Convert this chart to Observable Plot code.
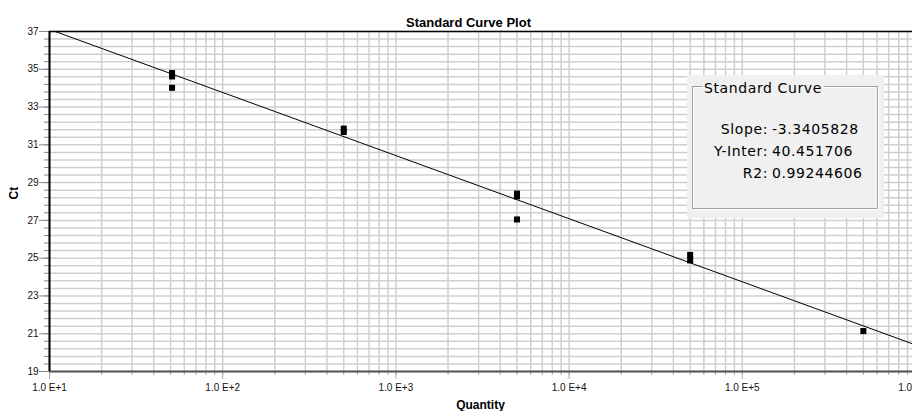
<!DOCTYPE html>
<html>
<head>
<meta charset="utf-8">
<script src="https://cdn.jsdelivr.net/npm/d3@7"></script>
<script src="https://cdn.jsdelivr.net/npm/@observablehq/plot@0.6"></script>
<style>
  html, body { margin: 0; padding: 0; background: #fff; overflow: hidden; }
  #wrap { position: relative; width: 912px; height: 411px; overflow: hidden; }
  #wrap svg { position: absolute; left: 0; top: 0; max-width: none !important; }
  .panel { position: absolute; left: 687px; top: 75px; width: 197px; height: 143px; background: #f0f0f0;
           font-family: "DejaVu Sans", sans-serif; font-size: 14px; letter-spacing: 0.6px; color: #000; }
  .gb { position: absolute; left: 5px; top: 11px; width: 184px; height: 121px;
        border: 1px solid #a0a0a0; box-shadow: 1px 1px 0 #fff, inset 1px 1px 0 #fff; }
  .gbt { position: absolute; left: 16px; top: 3px; line-height: 20px; padding: 0 2px 0 1px; background: #f0f0f0; }
  .lab { position: absolute; right: 116px; line-height: 20px; text-align: right; white-space: nowrap; }
  .val { position: absolute; left: 85px; line-height: 20px; white-space: nowrap; }
</style>
</head>
<body>
<div id="wrap"></div>
<script>
// ---- data ----
const quantities = [51, 51, 51, 500, 500, 5000, 5000, 5000, 50000, 50000, 500000];
const ctValues   = [34.80, 34.62, 34.02, 31.86, 31.68, 28.42, 28.27, 27.05, 25.17, 24.88, 21.14];
const slope = -3.3405828;
const yInter = 40.451706;
const r2 = 0.99244606;
const xDomain = [10, 1e6];
const yDomain = [19, 37];
const yLabeled = [19, 21, 23, 25, 27, 29, 31, 33, 35, 37];
const decadeLabels = ["1.0 E+1", "1.0 E+2", "1.0 E+3", "1.0 E+4", "1.0 E+5", "1.0 E+6"];
const decades = [10, 100, 1000, 10000, 100000, 1000000];
const titleText = "Standard Curve Plot";
const xTitle = "Quantity";
const yTitle = "Ct";

const points = quantities.map((q, i) => ({q, ct: ctValues[i]}));
const fit = xDomain.map(q => ({q, ct: slope * Math.log10(q) + yInter}));
const xMinor = d3.scaleLog().domain(xDomain).ticks();
const yMinor = d3.range(0, 46).map(i => +(yDomain[0] + i * 0.4).toFixed(1));

const plot = Plot.plot({
  width: 915,
  height: 411,
  marginLeft: 49,
  marginRight: 0,
  marginTop: 31,
  marginBottom: 40,
  style: {fontFamily: "'Liberation Sans', Arial, sans-serif", fontSize: "10px", background: "white", color: "#111", maxWidth: "none", overflow: "visible"},
  x: {type: "log", domain: xDomain},
  y: {domain: yDomain},
  marks: [
    Plot.ruleX(xMinor, {stroke: "#cfcfcf", strokeWidth: 1.5}),
    Plot.ruleY(yMinor, {stroke: "#cfcfcf", strokeWidth: 1.5}),
    Plot.axisY({ticks: yMinor, tickSize: 5, tickFormat: () => "", label: null, stroke: "#888"}),
    Plot.axisY({ticks: yLabeled, tickSize: 10, tickPadding: 1, tickFormat: d => String(d), label: null, stroke: "#888"}),
    Plot.axisX({ticks: xMinor, tickSize: 4, tickFormat: () => "", label: null, stroke: "#aaa"}),
    Plot.axisX({ticks: decades, tickSize: 8, tickPadding: 4, tickFormat: d => decadeLabels[decades.indexOf(d)], label: null, stroke: "#aaa"}),
    Plot.ruleY([yDomain[0]], {stroke: "#555", strokeWidth: 2}),
    Plot.ruleY([yDomain[1]], {stroke: "#000", strokeWidth: 1.5}),
    Plot.ruleX([xDomain[0]], {stroke: "#000", strokeWidth: 2}),
    Plot.line(fit, {x: "q", y: "ct", stroke: "#000", strokeWidth: 1, clip: true}),
    Plot.dot(points, {x: "q", y: "ct", symbol: "square", r: 3.4, fill: "#000", stroke: "none"}),
    Plot.text([titleText], {frameAnchor: "top", lineAnchor: "middle", dx: -14, dy: -8.5, fontWeight: "bold", fontSize: 13, fill: "#000"}),
    Plot.text([xTitle], {frameAnchor: "bottom", lineAnchor: "middle", dx: -2, dy: 34, fontWeight: "bold", fontSize: 12, fill: "#000"}),
    Plot.text([yTitle], {frameAnchor: "left", lineAnchor: "middle", dx: -35.5, dy: -2, rotate: -90, fontWeight: "bold", fontSize: 12, fill: "#000"})
  ]
});
const wrap = document.getElementById("wrap");
wrap.appendChild(plot);

// legend group box
const panel = document.createElement("div");
panel.className = "panel";
panel.innerHTML = `
  <div class="gb"></div>
  <div class="gbt">Standard Curve</div>
  <div class="lab" style="top:44px">Slope:</div><div class="val" style="top:44px">${slope}</div>
  <div class="lab" style="top:66px">Y-Inter:</div><div class="val" style="top:66px">${yInter}</div>
  <div class="lab" style="top:88px">R2:</div><div class="val" style="top:88px">${r2}</div>`;
wrap.appendChild(panel);
</script>
</body>
</html>
